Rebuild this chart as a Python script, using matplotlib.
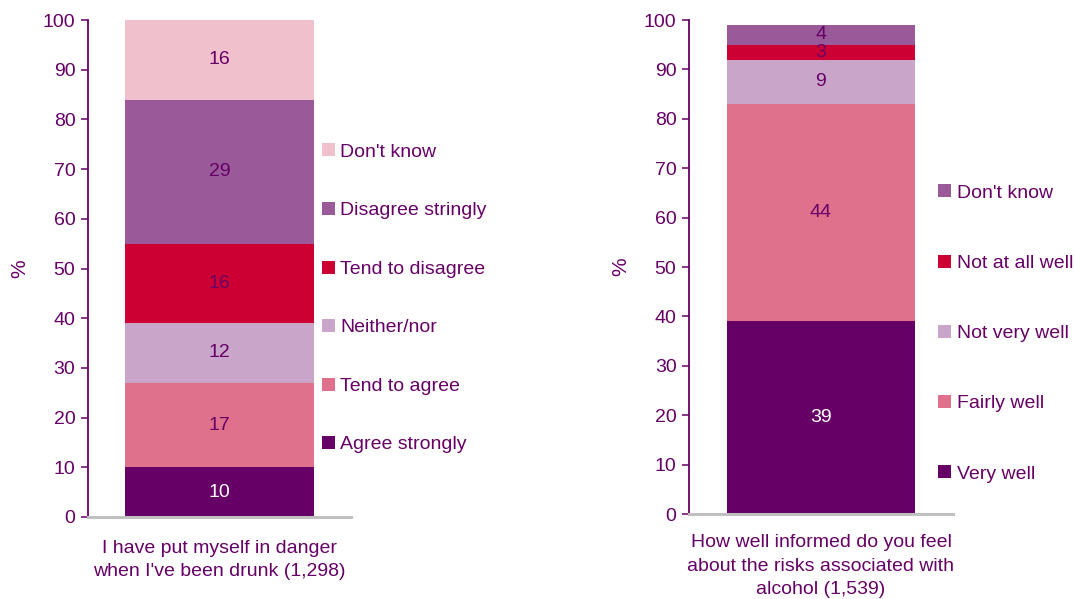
import matplotlib
matplotlib.use("Agg")
import matplotlib.pyplot as plt
from matplotlib.patches import Patch

plt.rcParams['font.family'] = ['Liberation Sans', 'DejaVu Sans']

TXT = '#660066'
FS = 14

# Left chart data (bottom to top)
left_cats = ['Agree strongly', 'Tend to agree', 'Neither/nor', 'Tend to disagree',
             'Disagree stringly', "Don't know"]
left_vals = [10, 17, 12, 16, 29, 16]
left_colors = ['#660066', '#E0718C', '#C9A5C9', '#CC0033', '#9A5A9A', '#F0C0CC']
left_xlabel = "I have put myself in danger\nwhen I've been drunk (1,298)"

# Right chart data (bottom to top)
right_cats = ['Very well', 'Fairly well', 'Not very well', 'Not at all well', "Don't know"]
right_vals = [39, 44, 9, 3, 4]
right_colors = ['#660066', '#E0718C', '#C9A5C9', '#CC0033', '#9A5A9A']
right_xlabel = "How well informed do you feel\nabout the risks associated with\nalcohol (1,539)"

yticks = list(range(0, 101, 10))

fig = plt.figure(figsize=(10.74, 5.99), dpi=100)

def draw(rect, cats, vals, colors, xlabel, leg_anchor, spacing, xl_y):
    ax = fig.add_axes(rect)
    bottom = 0
    handles = []
    for i, (c, v, col) in enumerate(zip(cats, vals, colors)):
        ax.bar(0, v, bottom=bottom, width=0.715, color=col, edgecolor='none')
        ax.text(0, bottom + v / 2, str(v), ha='center', va='center',
                fontsize=FS, color='white' if i == 0 else TXT)
        handles.append(Patch(facecolor=col, edgecolor='none', label=c))
        bottom += v
    ax.set_xlim(-0.5, 0.5)
    ax.set_ylim(0, 100)
    ax.set_yticks(yticks)
    ax.set_xticks([])
    for s in ['top', 'right']:
        ax.spines[s].set_visible(False)
    ax.spines['left'].set_color(TXT)
    ax.spines['left'].set_linewidth(1.3)
    ax.spines['bottom'].set_color('#C0C0C0')
    ax.spines['bottom'].set_linewidth(2.2)
    ax.tick_params(axis='y', colors=TXT, labelcolor=TXT, labelsize=FS,
                   length=5, width=1.1, direction='out', pad=4)
    ax.set_ylabel('%', color=TXT, fontsize=15, labelpad=10)
    ax.text(0.5, xl_y, xlabel, transform=ax.transAxes, ha='center', va='top',
            fontsize=FS, color=TXT, linespacing=1.5)
    leg = fig.legend(handles=handles[::-1], loc='center left', bbox_to_anchor=leg_anchor,
                     frameon=False, fontsize=FS, handlelength=0.65, handleheight=0.65,
                     handletextpad=0.3, labelspacing=spacing, borderpad=0, borderaxespad=0)
    for t in leg.get_texts():
        t.set_color(TXT)
    return ax

draw([0.0819, 0.1369, 0.2449, 0.8297], left_cats, left_vals, left_colors, left_xlabel,
     (0.2998, 0.5017), 2.12, -0.046)
draw([0.6415, 0.1419, 0.2458, 0.8247], right_cats, right_vals, right_colors, right_xlabel,
     (0.8734, 0.4432), 2.72, -0.041)

fig.savefig('out.png', dpi=100)
